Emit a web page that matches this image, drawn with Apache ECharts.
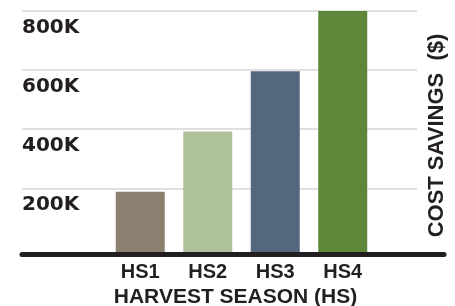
<!DOCTYPE html>
<html>
<head>
<meta charset="utf-8">
<script src="https://cdn.jsdelivr.net/npm/echarts@6/dist/echarts.min.js"></script>
<style>
    html, body { margin: 0; padding: 0; background: #fff; }
    #chart { width: 455px; height: 306px; }
</style>
</head>
<body>
<div id="chart"></div>
<script>
    // Cost savings per harvest season
    var seasons = ['HS1', 'HS2', 'HS3', 'HS4'];
    var savings = [200000, 400000, 600000, 800000];
    var barColors = ['#8c8170', '#afc29c', '#55667f', '#5f873a'];

    var ink = '#231f20';

    var chart = echarts.init(document.getElementById('chart'));

    var option = {
        animation: false,
        grid: [
            // grid 0: split lines and tick labels
            { left: 22, right: 38, top: 10.5, bottom: 58.5, outerBoundsMode: 'none' },
            // grid 1: bars
            { left: 106.5, right: 78.5, top: 11, bottom: 54, outerBoundsMode: 'none' },
            // grid 2: thick baseline and axis title
            { left: 22, right: 11, top: 0, bottom: 51.5, outerBoundsMode: 'none' }
        ],
        xAxis: [
            { gridIndex: 0, type: 'value', show: false, min: 0, max: 1 },
            {
                gridIndex: 1,
                type: 'category',
                data: seasons,
                axisLine: { show: false },
                axisTick: { show: false },
                axisLabel: {
                    margin: 10,
                    fontFamily: 'Liberation Sans',
                    fontWeight: 'bold',
                    fontSize: 20,
                    color: ink
                }
            },
            {
                gridIndex: 2,
                type: 'value',
                min: 0,
                max: 1,
                axisLine: { show: true, onZero: false, lineStyle: { color: ink, width: 5 } },
                axisTick: { show: false },
                axisLabel: { show: false },
                splitLine: { show: false },
                name: 'HARVEST SEASON (HS)',
                nameLocation: 'middle',
                nameGap: 32,
                nameTextStyle: {
                    fontFamily: 'Liberation Sans',
                    fontWeight: 'bold',
                    fontSize: 21,
                    color: ink,
                    padding: [0, 0, 0, 5]
                }
            }
        ],
        yAxis: [
            {
                gridIndex: 0,
                type: 'value',
                min: 0,
                max: 800000,
                interval: 200000,
                axisLine: { show: false },
                axisTick: { show: false },
                splitLine: {
                    showMinLine: false,
                    lineStyle: { color: '#d6d6d6', width: 1.5 }
                },
                axisLabel: {
                    inside: true,
                    margin: 0,
                    showMinLabel: false,
                    verticalAlign: 'top',
                    padding: [7, 0, 0, 0],
                    fontFamily: 'DejaVu Sans',
                    fontWeight: 'bold',
                    fontSize: 20,
                    color: ink,
                    formatter: function(v) {
                        return v === 0 ? '' : (v / 1000) + 'K';
                    }
                }
            },
            {
                gridIndex: 1,
                type: 'value',
                min: 0,
                max: 800000,
                show: false
            },
            {
                gridIndex: 0,
                type: 'value',
                position: 'right',
                min: 0,
                max: 800000,
                axisLine: { show: false },
                axisTick: { show: false },
                axisLabel: { show: false },
                splitLine: { show: false },
                name: 'COST SAVINGS  ($)',
                nameLocation: 'middle',
                nameRotate: 90,
                nameGap: 9,
                nameTextStyle: {
                    fontFamily: 'Liberation Sans',
                    fontWeight: 'bold',
                    fontSize: 22,
                    color: ink,
                    padding: [0, 13, 0, 0]
                }
            },
            {
                gridIndex: 2,
                type: 'value',
                min: 0,
                max: 1,
                show: false
            }
        ],
        series: [{
            type: 'bar',
            xAxisIndex: 1,
            yAxisIndex: 1,
            barWidth: 49,
            data: savings.map(function(v, i) {
                return { value: v, itemStyle: { color: barColors[i] } };
            })
        }]
    };

    chart.setOption(option);
</script>
</body>
</html>
